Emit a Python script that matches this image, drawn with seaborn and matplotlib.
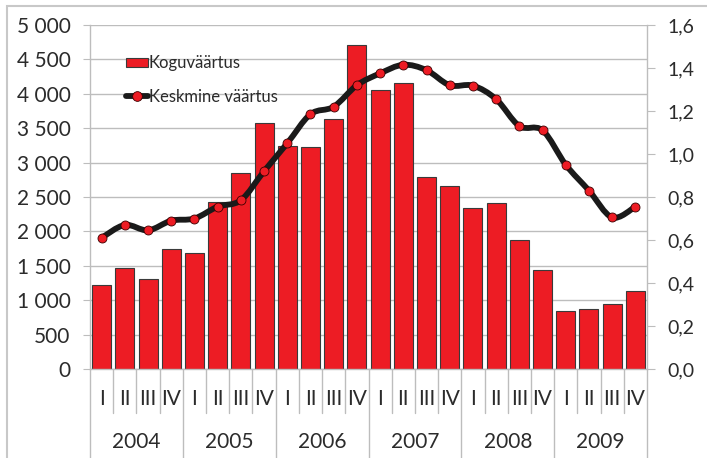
import numpy as np
import pandas as pd
import matplotlib
matplotlib.use("Agg")
import matplotlib.pyplot as plt
from matplotlib.path import Path
from matplotlib.patches import PathPatch, Patch, Rectangle
from matplotlib.lines import Line2D
import matplotlib.transforms as mtransforms
from matplotlib.ticker import FuncFormatter
import seaborn as sns

# ---- data ----
years = ["2004", "2005", "2006", "2007", "2008", "2009"]
quarters = ["I", "II", "III", "IV"]
koguvaartus = [1220, 1465, 1310, 1740,
               1685, 2430, 2845, 3580,
               3240, 3225, 3630, 4715,
               4060, 4155, 2785, 2660,
               2335, 2410, 1870, 1440,
               845, 865, 940, 1140]
keskmine = [0.61, 0.67, 0.645, 0.69,
            0.70, 0.755, 0.785, 0.92,
            1.05, 1.185, 1.22, 1.32,
            1.375, 1.415, 1.39, 1.32,
            1.318, 1.255, 1.13, 1.11,
            0.95, 0.83, 0.705, 0.755]
series_names = ["Koguväärtus", "Keskmine väärtus"]

labels = [f"{y} {q}" for y in years for q in quarters]
df = pd.DataFrame({"periood": labels,
                   "kogu": koguvaartus,
                   "keskmine": keskmine,
                   "pos": np.arange(len(labels))})

sns.set_theme(style="white")
plt.rcParams["font.family"] = ["Lato", "DejaVu Sans"]

RED = "#ED1C24"
GRID = "#BDBDBD"
TXT = "#2b2b2b"

fig = plt.figure(figsize=(7.07, 4.58), dpi=100)
W, H = 707, 458
ax = fig.add_axes([90 / W, 1 - 369 / H, (647 - 90) / W, (369 - 25) / H])

sns.barplot(data=df, x="periood", y="kogu", order=labels, color=RED,
            saturation=1, width=0.82, edgecolor="#3a3a3a", linewidth=0.8,
            ax=ax, zorder=2)
ax.set_xlim(-0.5, len(labels) - 0.5)
ax.set_ylim(0, 5000)
ax.set_yticks(np.arange(0, 5001, 500))
ax.yaxis.set_major_formatter(FuncFormatter(lambda v, p: f"{int(v):,}".replace(",", " ")))
ax.set_axisbelow(True)
ax.grid(axis="y", color=GRID, linewidth=1.0)
ax.grid(axis="x", visible=False)
ax.set_xlabel("")
ax.set_ylabel("")
ax.set_xticks([])
ax.tick_params(axis="y", which="major", direction="out", length=5, width=0.8,
               color=GRID, labelsize=15, labelcolor=TXT, pad=9, left=True)
for s in ["top", "right"]:
    ax.spines[s].set_visible(False)
for s in ["left", "bottom"]:
    ax.spines[s].set_color(GRID)
    ax.spines[s].set_linewidth(1.0)

# secondary axis
ax2 = ax.twinx()
ax2.set_ylim(0, 1.6)
ax2.set_yticks(np.arange(0, 1.61, 0.2))
ax2.yaxis.set_major_formatter(FuncFormatter(lambda v, p: f"{v:.1f}".replace(".", ",")))
ax2.tick_params(axis="y", direction="out", length=6, width=0.8, color=GRID,
                labelsize=14, labelcolor=TXT, pad=9)
for s in ["top", "left", "bottom"]:
    ax2.spines[s].set_visible(False)
ax2.spines["right"].set_color(GRID)
ax2.spines["right"].set_linewidth(1.0)
ax2.grid(False)

# smooth line (Catmull-Rom rendered as cubic Bezier through the data points)
xs = df["pos"].to_numpy(dtype=float)
ys = df["keskmine"].to_numpy(dtype=float)
pts = np.column_stack([xs, ys])
verts = [tuple(pts[0])]
codes = [Path.MOVETO]
n = len(pts)
for i in range(n - 1):
    p0 = pts[i - 1] if i > 0 else pts[i]
    p1 = pts[i]
    p2 = pts[i + 1]
    p3 = pts[i + 2] if i + 2 < n else pts[i + 1]
    c1 = p1 + (p2 - p0) / 6.0
    c2 = p2 - (p3 - p1) / 6.0
    verts += [tuple(c1), tuple(c2), tuple(p2)]
    codes += [Path.CURVE4] * 3
ax2.add_patch(PathPatch(Path(verts, codes), facecolor="none", edgecolor="#1a1a1a",
                        linewidth=4.2, capstyle="round", joinstyle="round", zorder=3))
sns.scatterplot(data=df, x="pos", y="keskmine", color=RED, edgecolor="#3a0000",
                linewidth=0.6, s=42, ax=ax2, zorder=4, legend=False)
ax2.set_xlim(-0.5, len(labels) - 0.5)
ax2.set_xlabel("")
ax2.set_ylabel("")

# category axis (quarters + years)
trans = mtransforms.blended_transform_factory(ax.transData, ax.transAxes)
for i, lab in enumerate(labels):
    q = lab.split(" ")[1]
    ax.text(i, -0.087, q, transform=trans, ha="center", va="center",
            fontsize=15, color=TXT)
for k in range(len(labels) + 1):
    xb = k - 0.5
    if k % 4 == 0:
        ax.plot([xb, xb], [0, -0.32], transform=trans, color=GRID, lw=1.0,
                clip_on=False, zorder=1)
    else:
        ax.plot([xb, xb], [0, -0.128], transform=trans, color=GRID, lw=1.0,
                clip_on=False, zorder=1)
for j, y in enumerate(years):
    ax.text(j * 4 + 1.5, -0.213, y, transform=trans, ha="center", va="center",
            fontsize=15, color=TXT)

# legend
handles = [Patch(facecolor=RED, edgecolor="#3a3a3a", linewidth=0.8),
           Line2D([0], [0], color="#1a1a1a", lw=4.2, marker="o",
                  markerfacecolor=RED, markeredgecolor="#3a0000",
                  markeredgewidth=0.6, markersize=7)]
leg = ax.legend(handles, series_names, loc="upper left",
                bbox_to_anchor=(0.052, 0.932), frameon=False, fontsize=12,
                handlelength=1.35, handleheight=0.45, handletextpad=0.05,
                labelspacing=1.05, borderaxespad=0)
for t in leg.get_texts():
    t.set_color(TXT)

# outer frame
fig.patches.append(Rectangle((7 / W, -0.1), 1.2, 1 - 6 / H + 0.1,
                             transform=fig.transFigure, fill=False,
                             edgecolor="#C8C8C8", linewidth=1.5))

fig.savefig("out.png", dpi=100, facecolor="white")
